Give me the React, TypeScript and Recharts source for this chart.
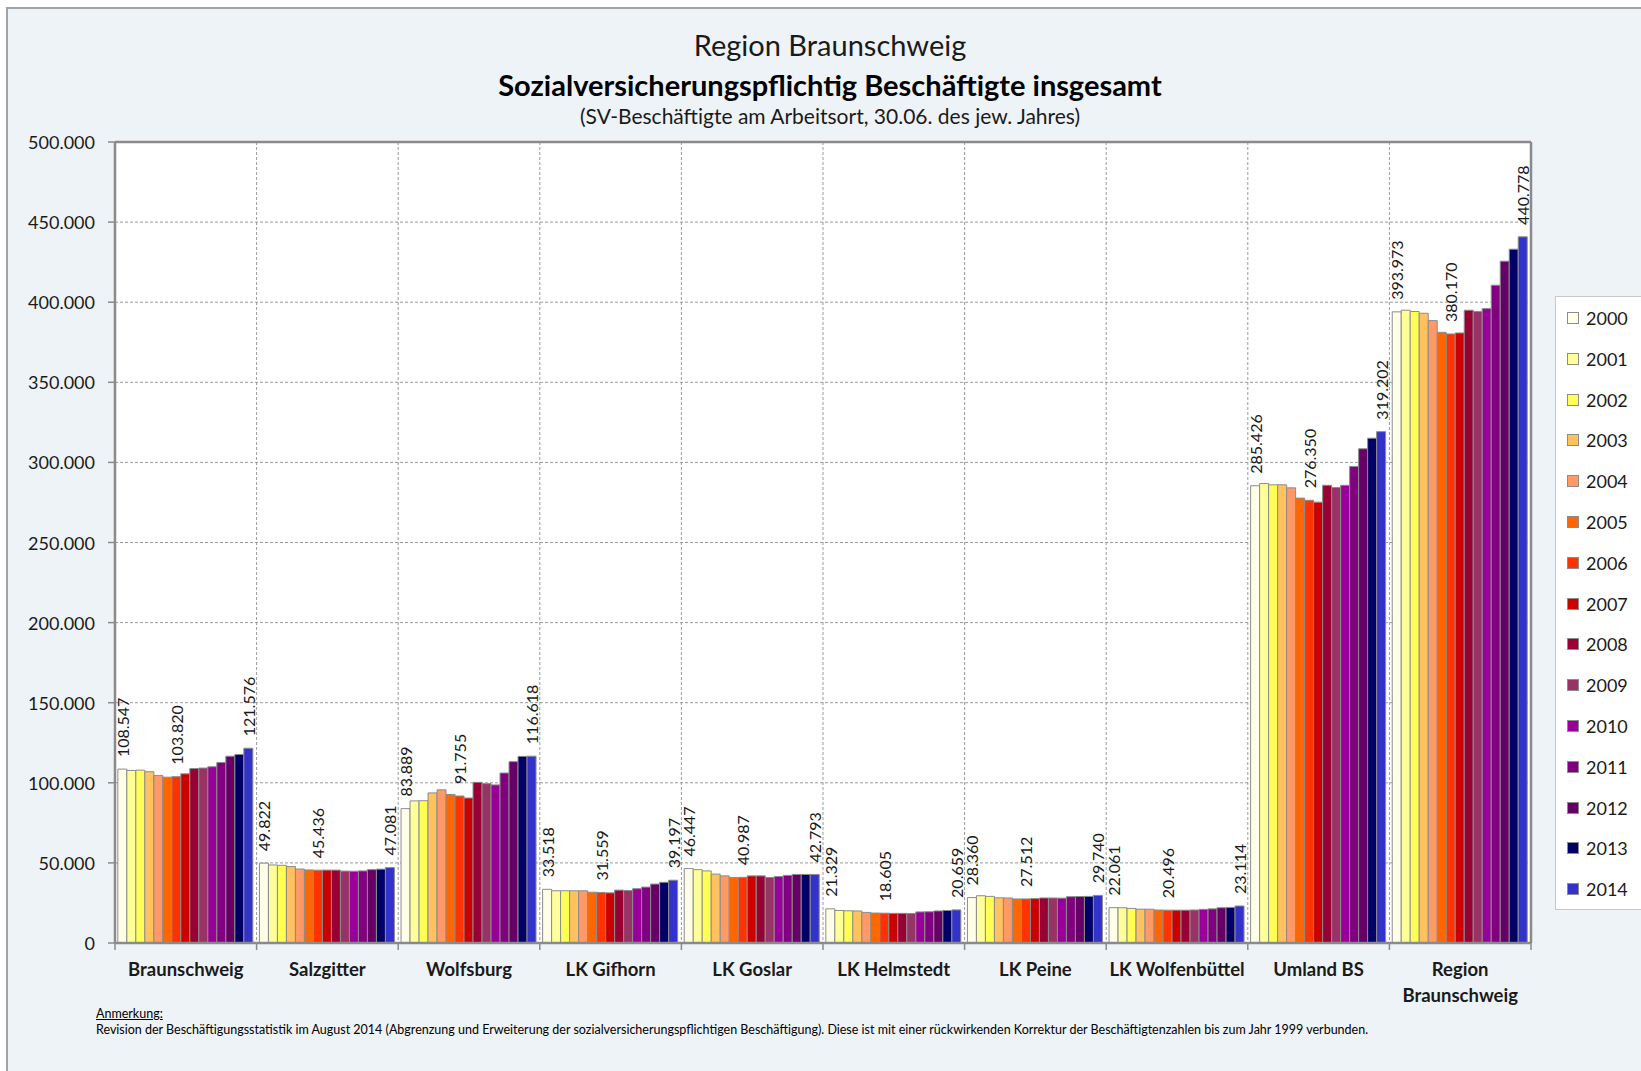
import React from 'react';
import { BarChart, Bar, XAxis, YAxis, CartesianGrid, LabelList, ReferenceLine } from 'recharts';

const categories = ['Braunschweig', 'Salzgitter', 'Wolfsburg', 'LK Gifhorn', 'LK Goslar', 'LK Helmstedt', 'LK Peine', 'LK Wolfenbüttel', 'Umland BS', 'Region Braunschweig'];
const years = ['2000', '2001', '2002', '2003', '2004', '2005', '2006', '2007', '2008', '2009', '2010', '2011', '2012', '2013', '2014'];
const yearColors = ['#FFFFE8', '#FFFF99', '#FFFF55', '#FFC25E', '#FF9966', '#FF6600', '#FF3300', '#CC0000', '#990033', '#993366', '#990099', '#800080', '#660066', '#000066', '#3333CC'];
const labeledYears = ['2000', '2006', '2014'];

const braunschweig = [108547, 107700, 107900, 106900, 104600, 103500, 103820, 105600, 108900, 109200, 110000, 112700, 116600, 117700, 121576];
const salzgitter = [49822, 48700, 48500, 47700, 46200, 45600, 45436, 45500, 45500, 44900, 44800, 45000, 45800, 46100, 47081];
const wolfsburg = [83889, 88700, 88800, 93700, 95600, 92700, 91755, 90500, 100300, 99500, 98700, 106100, 113200, 116500, 116618];
const gifhorn = [33518, 32600, 32600, 32600, 32600, 31700, 31559, 31300, 33000, 32800, 33900, 34900, 36800, 37900, 39197];
const goslar = [46447, 45800, 45000, 43000, 41900, 40900, 40987, 41900, 41900, 40900, 41500, 42200, 42800, 42800, 42793];
const helmstedt = [21329, 20300, 20100, 20000, 19100, 18700, 18605, 18500, 18500, 18400, 19400, 19500, 20000, 20300, 20659];
const peine = [28360, 29500, 29100, 28200, 28100, 27500, 27512, 27700, 28100, 28100, 28000, 28900, 29000, 29100, 29740];
const wolfenbuettel = [22061, 22000, 21600, 21100, 21100, 20600, 20496, 20500, 20500, 20600, 21000, 21300, 22000, 22200, 23114];
const umlandBS = [285426, 286800, 286000, 286000, 284100, 277700, 276350, 275200, 285700, 284300, 285700, 297500, 308500, 315100, 319202];
const regionBS = [393973, 395000, 394200, 393100, 388500, 381200, 380170, 380800, 395000, 394200, 396000, 410600, 425600, 433100, 440778];

const seriesByCategory = [braunschweig, salzgitter, wolfsburg, gifhorn, goslar, helmstedt, peine, wolfenbuettel, umlandBS, regionBS];
const yTicks = [0, 50000, 100000, 150000, 200000, 250000, 300000, 350000, 400000, 450000, 500000];

const data = categories.map((name, i) => {
  const row: any = { name };
  years.forEach((y, j) => { row['y' + y] = seriesByCategory[i][j]; });
  return row;
});

const CHART_W = 1641;
const CHART_H = 1071;
const MARGIN = { top: 142, right: 110, bottom: 68, left: 0 };
const Y_AXIS_W = 115;
const PLOT_W = CHART_W - MARGIN.left - MARGIN.right - Y_AXIS_W;
const BAND = PLOT_W / categories.length;

const FONT = 'Lato, "Open Sans", sans-serif';
const fmt = (v: number) => (v === 0 ? '0' : String(Math.round(v)).replace(/\B(?=(\d{3})+(?!\d))/g, '.'));

const boundaryGen = (props: any) => {
  const off = props.offset || {};
  const n = categories.length;
  const w = off.width / n;
  return Array.from({ length: n + 1 }, (_, i) => off.left + i * w);
};
const rightEdgeGen = (props: any) => {
  const off = props.offset || {};
  return [off.left + off.width];
};

const RotLabel = (props: any) => {
  const { x, y, width, value } = props;
  const cx = Number(x) + Number(width) / 2;
  const ty = Number(y) - 12;
  return (
    <text x={cx} y={ty} transform={`rotate(-90 ${cx} ${ty})`} textAnchor="start" dominantBaseline="central" fontSize={16} fill="#1a1a1a" fontFamily={FONT}>
      {fmt(Number(value))}
    </text>
  );
};

const CatTick = (props: any) => {
  const { x, y, payload, index } = props;
  const v: string = payload.value;
  const lines = v.length > 16 ? v.split(' ') : [v];
  const x0 = Number(x) - BAND / 2;
  const x1 = Number(x) + BAND / 2;
  const y0 = Number(y);
  return (
    <g>
      <line x1={x0} x2={x0} y1={y0} y2={y0 + 7} stroke="#8a8a8a" strokeWidth={1.5} />
      {index === categories.length - 1 ? <line x1={x1} x2={x1} y1={y0} y2={y0 + 7} stroke="#8a8a8a" strokeWidth={1.5} /> : null}
      {lines.map((l, i) => (
        <text key={i} x={x} y={y0 + 33 + i * 26} textAnchor="middle" fontWeight="bold" fontSize={18.5} fill="#1a1a1a" fontFamily={FONT}>{l}</text>
      ))}
    </g>
  );
};

const YTick = (props: any) => {
  const { x, y, payload } = props;
  return (
    <text x={x} y={y} textAnchor="end" dominantBaseline="central" fontSize={18} fill="#1a1a1a" fontFamily={FONT}>{fmt(payload.value)}</text>
  );
};

export default function App() {
  return (
    <div style={{ position: 'absolute', left: 0, top: 0, width: 1641, height: 1071, overflow: 'hidden', background: '#fff', fontFamily: FONT }}>
      <div style={{ position: 'absolute', left: 6, top: 7, width: 1700, height: 1100, background: '#eef3f8', borderLeft: '2px solid #a3a3a3', borderTop: '2px solid #a3a3a3' }} />
      <div style={{ position: 'absolute', left: 330, width: 1000, top: 27, textAlign: 'center', fontSize: 29, color: '#1a1a1a', lineHeight: '36px' }}>Region Braunschweig</div>
      <div style={{ position: 'absolute', left: 330, width: 1000, top: 66, textAlign: 'center', fontSize: 29, fontWeight: 'bold', color: '#000', lineHeight: '38px' }}>Sozialversicherungspflichtig Beschäftigte insgesamt</div>
      <div style={{ position: 'absolute', left: 330, width: 1000, top: 103, textAlign: 'center', fontSize: 21, color: '#1a1a1a', lineHeight: '26px' }}>(SV-Beschäftigte am Arbeitsort, 30.06. des jew. Jahres)</div>

      <div style={{ position: 'absolute', left: 0, top: 0 }}>
        <BarChart width={CHART_W} height={CHART_H} data={data} margin={MARGIN} barCategoryGap="2%" barGap={0}>
          <CartesianGrid stroke="#9a9a9a" strokeDasharray="3 2" fill="#ffffff" verticalCoordinatesGenerator={boundaryGen} />
          <CartesianGrid stroke="#8a8a8a" strokeWidth={2.5} horizontal={false} verticalCoordinatesGenerator={rightEdgeGen} />
          <XAxis dataKey="name" height={60} tickLine={false} tickSize={0} tickMargin={0} axisLine={{ stroke: '#8a8a8a', strokeWidth: 2.5 }} tick={<CatTick />} interval={0} />
          <YAxis domain={[0, 500000]} ticks={yTicks} width={Y_AXIS_W} tickSize={7} tickMargin={13} axisLine={{ stroke: '#8a8a8a', strokeWidth: 2.5 }} tickLine={{ stroke: '#8a8a8a', strokeWidth: 1.5 }} tick={<YTick />} allowDataOverflow />
          <ReferenceLine y={500000} stroke="#8a8a8a" strokeWidth={2.5} ifOverflow="visible" />
          {years.map((y, j) => (
            <Bar key={y} dataKey={'y' + y} name={y} fill={yearColors[j]} stroke="#8c8c8c" strokeWidth={1} isAnimationActive={false}>
              {labeledYears.includes(y) ? <LabelList dataKey={'y' + y} content={<RotLabel />} /> : null}
            </Bar>
          ))}
        </BarChart>
      </div>

      <div style={{ position: 'absolute', left: 1555, top: 296, width: 100, height: 612, background: '#fff', border: '1px solid #c8c8c8' }}>
        {years.map((y, j) => (
          <div key={y} style={{ position: 'absolute', left: 11, top: 11 + j * 40.8, height: 20, display: 'flex', alignItems: 'center' }}>
            <span style={{ display: 'inline-block', width: 10, height: 10, background: yearColors[j], border: '1px solid #8c8c8c', marginRight: 7 }} />
            <span style={{ fontSize: 18, color: '#1a1a1a' }}>{y}</span>
          </div>
        ))}
      </div>

      <div style={{ position: 'absolute', left: 96, top: 1006, fontSize: 12.5, color: '#000', textDecoration: 'underline' }}>Anmerkung:</div>
      <div style={{ position: 'absolute', left: 96, top: 1022, fontSize: 12.5, color: '#000', whiteSpace: 'nowrap' }}>Revision der Beschäftigungsstatistik im August 2014 (Abgrenzung und Erweiterung der sozialversicherungspflichtigen Beschäftigung). Diese ist mit einer rückwirkenden Korrektur der Beschäftigtenzahlen bis zum Jahr 1999 verbunden.</div>
    </div>
  );
}
